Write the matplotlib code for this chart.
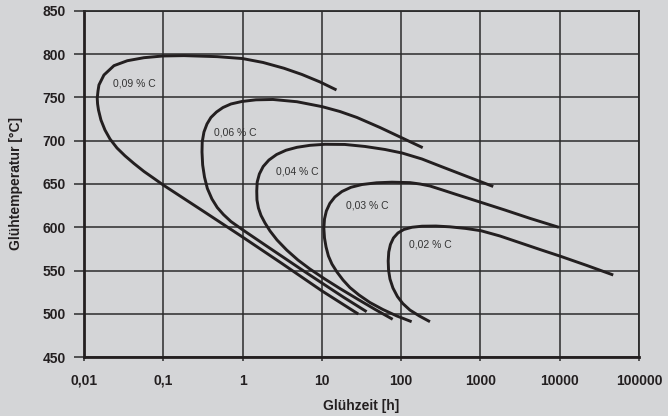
import numpy as np
import matplotlib.pyplot as plt
from matplotlib.ticker import FixedLocator, FixedFormatter, NullLocator

plt.rcParams['font.family'] = ['Liberation Sans', 'DejaVu Sans']

# curves: lower end -> nose -> peak -> upper end
c009_x = [28.8, 10, 3.14, 1.0, 0.317, 0.1, 0.0764, 0.0571, 0.0427, 0.0329, 0.0261,
          0.0213, 0.0184, 0.01637, 0.01524, 0.01485, 0.0147, 0.01503, 0.01545, 0.01786,
          0.0239, 0.0352, 0.0571, 0.1, 0.182, 0.48, 1, 1.81, 3.33, 5.61, 9.46, 15.3]
c009_y = [499.7, 526.5, 558.1, 588.7, 618.8, 648.8, 656.4, 664.5, 673.7, 682.6, 691.6,
          702, 712.4, 724, 735.6, 742.5, 749, 757.5, 764.5, 776,
          786.8, 792.5, 796, 798, 798.4, 797.2, 795, 790.5, 783.8, 776.6, 768, 758.7]

c006_x = [36.7, 19.0, 10.0, 5.30, 3.23, 2.01, 1.393, 0.99, 0.714, 0.574, 0.480, 0.411,
          0.360, 0.331, 0.314, 0.308, 0.310, 0.326, 0.356, 0.399, 0.469, 0.566, 0.714,
          0.982, 1.476, 2.42, 4.85, 10.1, 16.9, 27.7, 54.1, 103, 187]
c006_y = [502.4, 518.8, 535.6, 552.3, 565.6, 578.3, 588.2, 597.4, 606.6, 614.7, 622.8, 632.7,
          644.8, 658.1, 672.0, 687.0, 698.6, 710.1, 719.4, 726.9, 733.2, 738.4, 742.5,
          745.4, 747.3, 747.7, 745.1, 739.4, 733.8, 726.9, 715.3, 703.2, 692.0]

c004_x = [78.2, 46.8, 28.5, 16.9, 10.9, 7.08, 5.00, 3.60, 2.72, 2.22, 1.92, 1.71, 1.585,
          1.52, 1.51, 1.53, 1.63, 1.82, 2.15, 2.69, 3.53, 4.85, 7.08, 10.9, 19.5, 34.9,
          62.5, 103, 183, 308, 656, 1449]
c004_y = [493.6, 505.1, 516.7, 529.2, 540.2, 551.7, 562.1, 573.7, 585.3, 595.7, 604.9, 613.6, 622.3,
          631.5, 641.9, 652.3, 661.6, 670.2, 677.7, 684.1, 689.0, 692.4, 694.7, 695.9, 695.7, 693.4,
          689.9, 685.8, 678.9, 670.8, 659.2, 647.1]

c003_x = [135.6, 88.5, 58.9, 40.4, 29.4, 22.6, 18.5, 15.5, 13.4, 12.1, 11.3, 10.8, 10.6,
          10.8, 11.4, 12.6, 14.6, 17.9, 23.3, 32.1, 49.1, 76.6, 129, 172.6, 231, 326.6,
          477, 1014, 2037, 4207, 9770]
c003_y = [490.8, 497.4, 504.9, 513.0, 521.7, 530.3, 539.0, 548.3, 557.5, 566.8, 577.2, 587.6, 598.8,
          609.5, 618.8, 627.5, 635.0, 641.3, 646.2, 649.4, 651.4, 652.1, 651.6, 650.0, 647.7, 643.3,
          638.4, 628.8, 619.9, 610.3, 599.9]

c002_x = [231, 170, 129, 105, 89.8, 78.8, 72.3, 69.4, 68.7, 69.8, 73.3, 80.0, 91.2, 108,
          137, 183, 275, 412, 656, 1014, 1762, 3148, 5623, 10260, 22030, 47300]
c002_y = [490.8, 497.4, 504.3, 511.8, 519.9, 529.8, 540.2, 550.6, 561.0, 571.4, 580.1, 587.6, 593.4, 597.4,
          600.0, 601.2, 601.4, 600.5, 598.6, 596.0, 589.9, 582.1, 574.3, 566.4, 555.8, 544.8]

curves_x = [c009_x, c006_x, c004_x, c003_x, c002_x]
curves_y = [c009_y, c006_y, c004_y, c003_y, c002_y]

labels = ['0,09 % C', '0,06 % C', '0,04 % C', '0,03 % C', '0,02 % C']
label_x = [0.023, 0.435, 2.61, 20.1, 125]
label_y = [765.6, 709, 664, 624.6, 580.6]

x_ticks = [0.01, 0.1, 1, 10, 100, 1000, 10000, 100000]
x_ticklabels = ['0,01', '0,1', '1', '10', '100', '1000', '10000', '100000']
y_ticks = [450, 500, 550, 600, 650, 700, 750, 800, 850]

bg = '#d4d5d7'
ink = '#231f20'

fig = plt.figure(figsize=(6.68, 4.16), dpi=100, facecolor=bg)
ax = fig.add_axes([0.1257, 0.1418, 0.8309, 0.8318], facecolor=bg)

ax.set_xscale('log')
ax.set_xlim(0.01, 100000)
ax.set_ylim(450, 850)

ax.xaxis.set_major_locator(FixedLocator(x_ticks))
ax.xaxis.set_major_formatter(FixedFormatter(x_ticklabels))
ax.xaxis.set_minor_locator(NullLocator())
ax.set_yticks(y_ticks)

ax.grid(True, color='#2b2b2b', linewidth=1.1)
ax.set_axisbelow(True)

for xs, ys in zip(curves_x, curves_y):
    ax.plot(xs, ys, color=ink, linewidth=2.1, solid_capstyle='butt',
            solid_joinstyle='round', zorder=3)

for t, lx, ly in zip(labels, label_x, label_y):
    ax.text(lx, ly, t, fontsize=7.5, color='#333333', ha='left', va='center', zorder=4)

for s in ['left', 'bottom']:
    ax.spines[s].set_linewidth(2.0)
    ax.spines[s].set_color(ink)
for s in ['top', 'right']:
    ax.spines[s].set_linewidth(1.3)
    ax.spines[s].set_color('#2b2b2b')

ax.tick_params(axis='y', length=7, width=1.1, color='#2b2b2b', pad=6,
               labelsize=10, labelcolor=ink)
ax.tick_params(axis='x', length=3, width=1.1, color='#2b2b2b', pad=9,
               labelsize=10, labelcolor=ink)
for lab in ax.get_xticklabels() + ax.get_yticklabels():
    lab.set_fontweight('bold')

ax.set_xlabel('Glühzeit [h]', fontsize=10, fontweight='bold', color=ink, labelpad=8)
ax.set_ylabel('Glühtemperatur [°C]', fontsize=10, fontweight='bold', color=ink, labelpad=14)

fig.savefig('out.png', dpi=100, facecolor=bg)
